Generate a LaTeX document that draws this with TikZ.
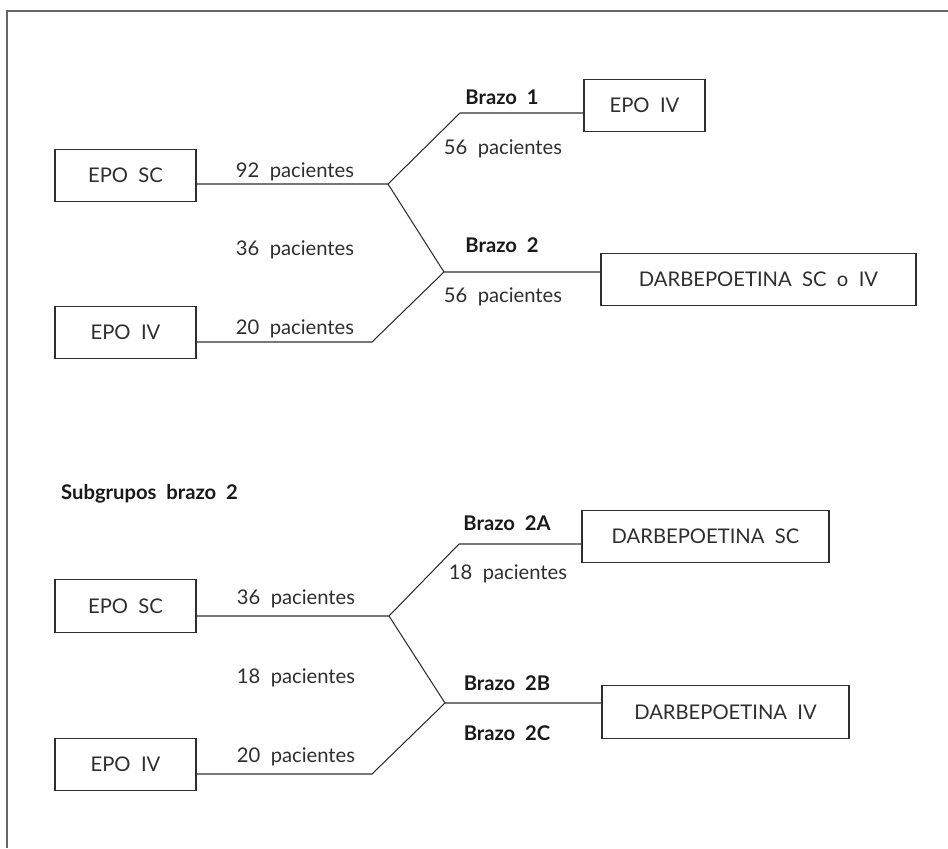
\documentclass[tikz,border=0pt]{standalone}
\usepackage{fontspec}
\setmainfont{Lato}
\usepackage{xcolor}
\usepackage{tikz}
\definecolor{tinta}{HTML}{2E2E2E}
\tikzset{caja/.style = {draw=tinta, line width=0.65pt, rectangle, minimum height=1.05cm, inner sep=0pt, text=tinta, font=\fontsize{11.5}{13}\selectfont}}
\tikzset{etiq/.style = {text=tinta, font=\fontsize{11.5}{13}\selectfont}}
\tikzset{brazo/.style = {text=black!90, font=\fontsize{11.5}{13}\selectfont\bfseries}}
\tikzset{rama/.style = {draw=tinta, line width=0.6pt}}

\begin{document}
\begin{tikzpicture}

\useasboundingbox (0,0) rectangle (18.96,16.96);
\draw[gray!80!black, line width=1.1pt] (0.14,0) -- (0.14,16.74) -- (18.96,16.74);

% brazos 1 y 2
\node[caja, minimum width=2.82cm] (sc1) at (2.51,13.45) {EPO\ \ SC};
\node[caja, minimum width=2.82cm] (iv1) at (2.51,10.31) {EPO\ \ IV};
\node[caja, minimum width=2.42cm] (epo1) at (12.89,14.85) {EPO\ \ IV};
\node[caja, minimum width=6.3cm] (darbe1) at (15.17,11.37) {DARBEPOETINA\ \ SC\ \ o\ \ IV};

\coordinate (j1) at (7.76,13.28);
\coordinate (k1) at (9.2,14.7);
\coordinate (j2) at (8.88,11.52);
\coordinate (k2) at (7.44,10.12);

\draw[rama] (sc1.east |- j1) -- (j1) -- (k1) -- (k1 -| epo1.west);
\draw[rama] (j1) -- (j2) -- (j2 -| darbe1.west);
\draw[rama] (iv1.east |- k2) -- (k2) -- (j2);

\node[brazo] (b1) at (10.04,15.02) {Brazo\ \ 1};
\node[etiq] (p56a) at (10.06,13.98) {56\ \ pacientes};
\node[etiq] (p92) at (5.9,13.52) {92\ \ pacientes};
\node[etiq] (p36a) at (5.9,11.96) {36\ \ pacientes};
\node[brazo] (b2) at (10.04,12.06) {Brazo\ \ 2};
\node[etiq] (p56b) at (10.06,11.02) {56\ \ pacientes};
\node[etiq] (p20a) at (5.9,10.38) {20\ \ pacientes};

% subgrupos del brazo 2
\node[brazo, anchor=west] (sub) at (1.1,7.08) {Subgrupos\ \ brazo\ \ 2};

\node[caja, minimum width=2.82cm] (sc2) at (2.51,4.84) {EPO\ \ SC};
\node[caja, minimum width=2.82cm] (iv2) at (2.51,1.67) {EPO\ \ IV};
\node[caja, minimum width=4.94cm] (darbesc) at (14.11,6.23) {DARBEPOETINA\ \ SC};
\node[caja, minimum width=4.94cm] (darbeiv) at (14.51,2.72) {DARBEPOETINA\ \ IV};

\coordinate (j3) at (7.78,4.64);
\coordinate (k3) at (9.18,6.08);
\coordinate (j4) at (8.9,2.9);
\coordinate (k4) at (7.44,1.48);

\draw[rama] (sc2.east |- j3) -- (j3) -- (k3) -- (k3 -| darbesc.west);
\draw[rama] (j3) -- (j4) -- (j4 -| darbeiv.west);
\draw[rama] (iv2.east |- k4) -- (k4) -- (j4);

\node[brazo] (b2a) at (10.14,6.5) {Brazo\ \ 2A};
\node[etiq] (p18a) at (10.16,5.48) {18\ \ pacientes};
\node[etiq] (p36b) at (5.92,4.98) {36\ \ pacientes};
\node[etiq] (p18b) at (5.92,3.4) {18\ \ pacientes};
\node[brazo] (b2b) at (10.14,3.3) {Brazo\ \ 2B};
\node[brazo] (b2c) at (10.14,2.3) {Brazo\ \ 2C};
\node[etiq] (p20b) at (5.92,1.82) {20\ \ pacientes};

\end{tikzpicture}
\end{document}
